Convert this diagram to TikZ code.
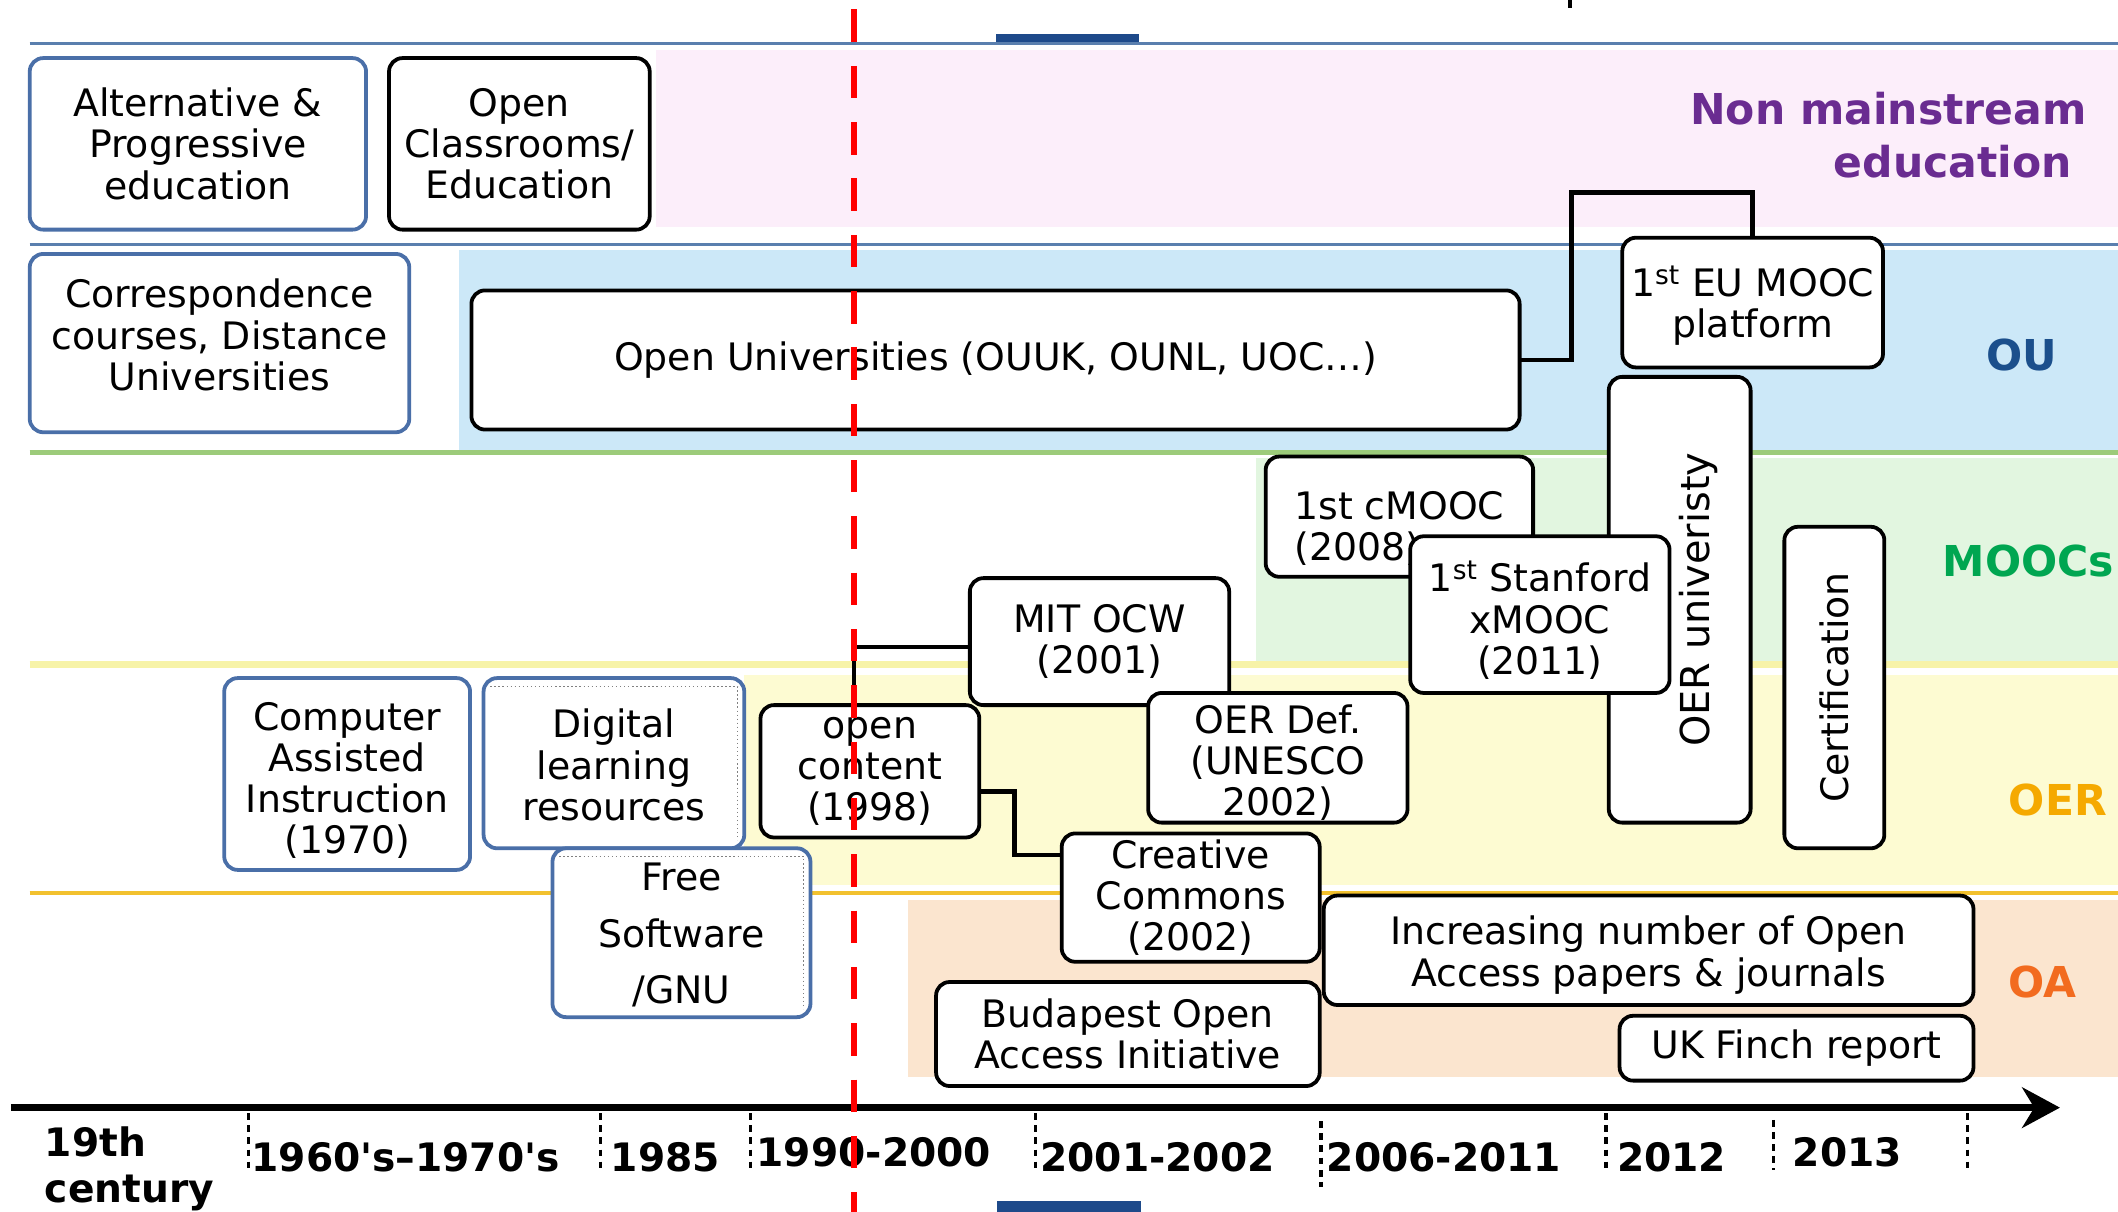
\documentclass[tikz,border=0pt]{standalone}
\usepackage{fontspec}
\setmainfont{DejaVu Sans}
\usetikzlibrary{arrows.meta}
\definecolor{bpink}{HTML}{FCEEFA}
\definecolor{bblue}{HTML}{CCE8F8}
\definecolor{bgreen}{HTML}{E2F6E0}
\definecolor{byellow}{HTML}{FDFBD2}
\definecolor{bpeach}{HTML}{FBE5CF}
\definecolor{lblue}{HTML}{5A7FAE}
\definecolor{lgreen}{HTML}{9CCB7A}
\definecolor{lyellow}{HTML}{F7F3A8}
\definecolor{lgold}{HTML}{F2C12E}
\definecolor{boxblue}{HTML}{4A6FA8}
\definecolor{navybar}{HTML}{1E4A8A}
\definecolor{tpurple}{HTML}{6A2C91}
\definecolor{tblue}{HTML}{1B4F8C}
\definecolor{tgreen}{HTML}{00A651}
\definecolor{tyellow}{HTML}{F5A900}
\definecolor{torange}{HTML}{F26B1F}
\newcommand\boxfont{\fontsize{28}{30.5}\selectfont}
\newcommand\labfont{\fontsize{29}{34}\selectfont\bfseries}
\newcommand\catfont{\fontsize{31.5}{39}\selectfont\bfseries}
\newcommand\sq{{\XeTeXglyph\XeTeXglyphindex "quotesingle"\relax}}
\newcommand\up[1]{\rule{0pt}{#1pt}}
\newcommand\dnl[1]{\rule[-#1pt]{0pt}{#1pt}}
\begin{document}
\begin{tikzpicture}[x=1pt,y=-1pt,
  evt/.style={draw=black, line width=2.8pt, rounded corners=10pt, fill=white,
    align=center, inner sep=0pt, outer sep=0pt, font=\boxfont},
  bevt/.style={evt, draw=boxblue},
  conn/.style={line width=3.2pt, black},
  sepline/.style={line width=#1},
  tickmark/.style={line width=2.6pt, dash pattern=on 5pt off 4pt},
  lab/.style={anchor=west, inner sep=0pt, font=\labfont},
  cat/.style={inner sep=0pt, font=\catfont},
  innerdot/.style={gray, line width=1pt, dotted}]
\useasboundingbox (0,0) rectangle (1568,897);
\fill[white] (0,0) rectangle (1568,897);
% bands
\fill[bpink] (486,37) rectangle (1568,168);
\fill[bblue] (340,185) rectangle (1568,333);
\fill[bgreen] (930,339) rectangle (1568,490);
\fill[byellow] (551,500) rectangle (1568,655);
\fill[bpeach] (672,666) rectangle (1568,797);
% separator lines
\draw[lblue, sepline=2pt] (22,32) -- (1568,32);
\draw[lblue, sepline=2pt] (22,181) -- (1568,181);
\draw[lgreen, sepline=3pt] (22,335) -- (1568,335);
\draw[lyellow, sepline=5pt] (22,492) -- (1568,492);
\draw[lgold, sepline=3pt] (22,661) -- (1568,661);
% bars
\fill[navybar] (737,25) rectangle (843,31);
\fill[navybar] (738,889) rectangle (845,897);
\fill[black] (1160.5,0) rectangle (1164,6);
% boxes
\node[bevt, minimum width=249pt, minimum height=127pt] (alt) at (146.5,106.5) {Alternative \&\\Progressive\\education};
\node[evt, minimum width=193pt, minimum height=127pt] (opencl) at (384.5,106.5) {Open\\Classrooms/\\Education};
\node[bevt, minimum width=281pt, minimum height=132pt] (corr) at (162.5,254) {Correspondence\\courses, Distance\\Universities\dnl{12.5}};
\node[evt, minimum width=776pt, minimum height=103pt] (ou) at (737,266.5) {Open Universities (OUUK, OUNL, UOC…)};
\node[evt, minimum width=193pt, minimum height=96pt] (eumooc) at (1297.5,224) {\up{27}1\textsuperscript{st} EU MOOC\\platform};
\node[evt, minimum width=105pt, minimum height=330pt] (oeru) at (1243.5,444) {\hspace*{28pt}\rotatebox{90}{\fontsize{29.5}{34}\selectfont OER univeristy}};
\node[evt, minimum width=74pt, minimum height=238pt] (cert) at (1358,509) {\rotatebox{90}{\fontsize{28}{34}\selectfont Certification}};
\node[evt, minimum width=198pt, minimum height=89pt, align=left] (cmooc) at (1036,382.5) {\up{38.5}1st cMOOC\\(2008)};
\node[evt, minimum width=192pt, minimum height=116pt] (stan) at (1140,455) {\up{31}1\textsuperscript{st} Stanford\\xMOOC\\(2011)};
\node[evt, minimum width=192pt, minimum height=94pt] (mit) at (814,475) {MIT OCW\\(2001)};
\node[evt, minimum width=162pt, minimum height=98pt] (openc) at (644,571) {open\\content\\(1998)};
\node[evt, minimum width=192pt, minimum height=96pt] (oerdef) at (946,561) {\up{28.5}OER Def.\\(UNESCO\\2002)};
\node[evt, minimum width=191pt, minimum height=95pt] (cc) at (881.5,664.5) {Creative\\Commons\\(2002)};
\node[bevt, minimum width=182pt, minimum height=142pt] (cai) at (257,573) {\up{30.5}Computer\\Assisted\\Instruction\\(1970)};
\node[bevt, minimum width=193pt, minimum height=126pt] (dlr) at (454.5,565) {\up{24}Digital\\learning\\resources};
\draw[innerdot] ([xshift=5pt,yshift=-6pt]dlr.north west) -- ([xshift=-5pt,yshift=-6pt]dlr.north east) -- ([xshift=-5pt,yshift=6pt]dlr.south east);
\node[bevt, minimum width=191pt, minimum height=125pt, font=\fontsize{28}{42}\selectfont] (fsw) at (504.5,690.5) {\up{24}Free\\Software\\/GNU};
\draw[innerdot] ([xshift=5pt,yshift=-6pt]fsw.north west) -- ([xshift=-5pt,yshift=-6pt]fsw.north east) -- ([xshift=-5pt,yshift=6pt]fsw.south east);
\node[evt, minimum width=481pt, minimum height=81pt] (inc) at (1220.5,703.5) {\up{28.5}Increasing number of Open\\Access papers \& journals};
\node[evt, minimum width=284pt, minimum height=77pt] (bud) at (835,765.5) {Budapest Open\\Access Initiative};
\node[evt, minimum width=262pt, minimum height=48pt] (finch) at (1330,776) {UK Finch report};
% connectors
\draw[conn] (ou.east) -| (1163.5,142.5) -| (eumooc.north);
\draw[conn] ([xshift=-12pt]openc.north) |- ([yshift=-4pt]mit.west);
\draw[conn] ([yshift=-15pt]openc.east) -- ++(26,0) |- ([yshift=31.5pt]cc.west);
% category labels
\node[cat, text=tpurple, align=right, anchor=east] (nonmain) at (1545,100) {Non mainstream\\education\hspace*{11pt}};
\node[cat, text=tblue] (oulab) at (1497,263) {OU};
\node[cat, text=tgreen, anchor=west] (mooclab) at (1438,415) {MOOCs};
\node[cat, text=tyellow, anchor=west] (oerlab) at (1487,592) {OER};
\node[cat, text=torange, anchor=west] (oalab) at (1487,727) {OA};
% axis
\coordinate (axs) at (8,820);
\coordinate (axe) at (1525,820);
\draw[line width=5pt, -{Stealth[length=28pt,width=30pt,inset=9pt]}] (axs) -- (axe);
\foreach \tx/\ya/\yb in {184/824/868, 444.5/824/868, 555.5/824/868, 766.5/824/868, 978/830/879, 1189/824/868, 1313/829/866, 1456.5/824/868}
  \draw[tickmark] (\tx,\ya) -- (\tx,\yb);
\node[lab, align=left] (l19) at (33,865) {19th\\century};
\node[lab] (l60) at (186,857) {1960\sq s–1970\sq s};
\node[lab] (l85) at (452,857) {1985};
\node[lab] (l90) at (560,853) {1990-2000};
\node[lab] (l01) at (770,857) {2001-2002};
\node[lab] (l06) at (982,857) {2006-2011};
\node[lab] (l12) at (1197,857) {2012};
\node[lab] (l13) at (1327,853) {2013};
% red dashed line
\coordinate (rtop) at (632,0);
\coordinate (rbot) at (632,897);
\draw[red, line width=4.5pt, dash pattern=on 24pt off 17.7pt, dash phase=34.7pt] (rtop) -- (rbot);
\end{tikzpicture}
\end{document}
